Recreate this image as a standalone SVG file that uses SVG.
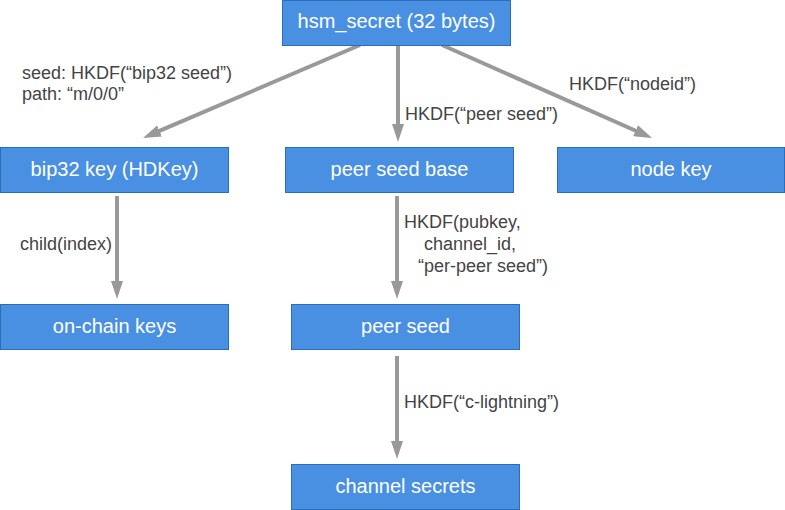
<svg xmlns="http://www.w3.org/2000/svg" width="785" height="510" viewBox="0 0 785 510">
<style>
.box{fill:#4a90e2;stroke:#2a6db8;stroke-width:1}
.bt{font-family:"Liberation Sans",Arial,sans-serif;font-size:20px;fill:#fff;text-anchor:middle}
.lb{font-family:"Liberation Sans",Arial,sans-serif;font-size:18px;fill:#444}
.ln{stroke:#999;stroke-width:4;fill:none;marker-end:url(#ah)}
</style>
<defs>
<marker id="ah" markerUnits="userSpaceOnUse" viewBox="0 0 18 12" markerWidth="18" markerHeight="12" refX="2" refY="6" orient="auto">
<path d="M0,0 L18,6 L0,12 z" fill="#999"/>
</marker>
</defs>
<rect width="785" height="510" fill="#fff"/>
<g id="connectors">
<line class="ln" x1="360" y1="45" x2="157.7" y2="131.7"/>
<line class="ln" x1="398" y1="45" x2="398" y2="126"/>
<line class="ln" x1="442" y1="45" x2="637.4" y2="131.5"/>
<line class="ln" x1="117" y1="196" x2="117" y2="283"/>
<line class="ln" x1="397" y1="196" x2="397" y2="283"/>
<line class="ln" x1="397" y1="356" x2="397" y2="443"/>
<text class="lb" x="22" y="79">seed: HKDF(“bip32 seed”)</text>
<text class="lb" x="22" y="100">path: “m/0/0”</text>
<text class="lb" x="405" y="120">HKDF(“peer seed”)</text>
<text class="lb" x="569" y="90">HKDF(“nodeid”)</text>
<text class="lb" x="20" y="250">child(index)</text>
<text class="lb" x="404" y="228">HKDF(pubkey,</text>
<text class="lb" x="424" y="250">channel_id,</text>
<text class="lb" x="418" y="272">“per-peer seed”)</text>
<text class="lb" x="404" y="408">HKDF(“c-lightning”)</text>
</g>
<g id="hsm_secret"><rect class="box" x="282.5" y="0.5" width="228" height="45"/><text class="bt" x="396.5" y="28">hsm_secret (32 bytes)</text></g>
<g id="bip32_key"><rect class="box" x="0.5" y="147.5" width="228" height="45"/><text class="bt" x="114.5" y="176">bip32 key (HDKey)</text></g>
<g id="peer_seed_base"><rect class="box" x="285.5" y="147.5" width="228" height="45"/><text class="bt" x="399.5" y="176">peer seed base</text></g>
<g id="node_key"><rect class="box" x="557.5" y="147.5" width="227" height="45"/><text class="bt" x="671" y="176">node key</text></g>
<g id="on_chain_keys"><rect class="box" x="0.5" y="304.5" width="228" height="45"/><text class="bt" x="114.5" y="333">on-chain keys</text></g>
<g id="peer_seed"><rect class="box" x="291.5" y="304.5" width="228" height="45"/><text class="bt" x="405.5" y="333">peer seed</text></g>
<g id="channel_secrets"><rect class="box" x="291.5" y="464.5" width="228" height="45"/><text class="bt" x="405.5" y="493">channel secrets</text></g>
</svg>
